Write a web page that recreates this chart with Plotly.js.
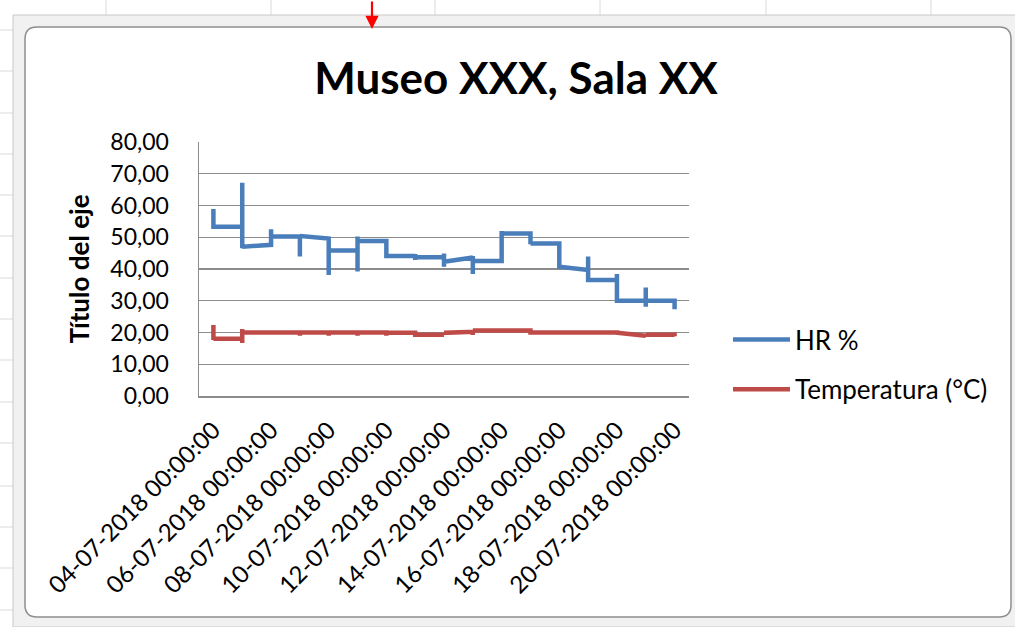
<!DOCTYPE html>
<html>
<head>
<meta charset="utf-8">
<script src="https://cdn.plot.ly/plotly-3.0.1.min.js"></script>
<style>
html,body{margin:0;padding:0;background:#fff;}
#chart{width:1015px;height:627px;}
</style>
</head>
<body>
<div id="chart"></div>
<script>
// ---- data (several readings per day, stacked on the day position) ----
const days = ['2018-07-04','2018-07-05','2018-07-06','2018-07-07','2018-07-08','2018-07-09',
  '2018-07-10','2018-07-11','2018-07-12','2018-07-13','2018-07-14','2018-07-15','2018-07-16',
  '2018-07-17','2018-07-18','2018-07-19','2018-07-20'];

const hrReadings = [
  [58.9, 56.0, 54.0, 53.3],
  [53.3, 67.2, 46.5, 47.0],
  [47.6, 52.5, 48.5, 50.2],
  [50.2, 43.9, 50.9, 50.4],
  [49.6, 38.1, 47.0, 45.8],
  [45.8, 39.2, 50.2, 48.8],
  [48.8, 46.5, 45.0, 44.1],
  [44.1, 44.7, 42.8, 43.7],
  [43.7, 44.9, 40.7, 42.3],
  [43.6, 44.1, 38.4, 42.5],
  [42.5, 44.0, 52.0, 51.2],
  [51.2, 50.0, 47.8, 48.0],
  [48.0, 45.0, 42.0, 40.7],
  [39.7, 43.9, 35.8, 36.5],
  [36.5, 38.4, 31.0, 30.0],
  [30.0, 34.2, 28.1, 30.0],
  [30.0, 29.0, 28.0, 27.3]
];

const tempReadings = [
  [22.4, 19.0, 17.6, 18.0],
  [18.0, 21.1, 16.7, 20.0],
  [20.0, 20.6, 19.6, 20.0],
  [20.0, 19.0, 19.8, 20.0],
  [20.0, 19.0, 19.8, 20.0],
  [20.0, 19.0, 19.8, 20.0],
  [20.0, 19.0, 19.8, 20.0],
  [19.9, 19.2, 19.6, 19.3],
  [19.3, 19.1, 20.0, 19.9],
  [20.2, 19.2, 20.8, 20.6],
  [20.6, 20.4, 20.8, 20.6],
  [20.6, 20.2, 20.0, 20.0],
  [20.0, 19.8, 20.1, 20.0],
  [20.0, 19.8, 20.1, 20.0],
  [20.0, 19.7, 20.1, 19.9],
  [19.0, 18.8, 19.4, 19.3],
  [19.3, 18.8, 19.4, 19.0]
];

const seriesNames = ['HR %', 'Temperatura (°C)'];
const chartTitle = 'Museo XXX, Sala XX';
const yAxisTitle = 'Título del eje';

// ---- build traces ----
function flatten(readings) {
  const x = [], y = [];
  readings.forEach((vals, i) => vals.forEach(v => { x.push(days[i]); y.push(v); }));
  return {x, y};
}
const hr = flatten(hrReadings);
const tp = flatten(tempReadings);

const FONT = 'Lato, Carlito, Calibri, "Open Sans", sans-serif';

const traces = [
  {x: hr.x, y: hr.y, name: seriesNames[0], type: 'scatter', mode: 'lines',
   line: {color: '#4a7ebb', width: 4.5, simplify: false}, legendgroup: 'a'},
  {x: tp.x, y: tp.y, name: seriesNames[1], type: 'scatter', mode: 'lines',
   line: {color: '#be4b48', width: 4.5, simplify: false}, legendgroup: 'b'}
];

// ---- geometry helpers (pixels -> paper) ----
const W = 1015, H = 627;
const PL = 199, PR = 689, PT = 142, PB = 396;
const px = x => (x - PL) / (PR - PL);
const py = y => (PB - y) / (PB - PT);

const shapes = [];
// spreadsheet grid behind the chart
[106, 271, 435, 600, 766, 931].forEach(x => shapes.push({type:'line', xref:'paper', yref:'paper',
  x0: px(x), x1: px(x), y0: py(0), y1: py(H), line:{color:'#d9dadb', width:1}, layer:'below'}));
[30, 71, 113, 154, 195, 236, 278, 319, 360, 402, 443, 486, 527, 568, 610].forEach(y => shapes.push({type:'line', xref:'paper', yref:'paper',
  x0: px(0), x1: px(W), y0: py(y), y1: py(y), line:{color:'#d9dadb', width:1}, layer:'below'}));
// selection frame band
shapes.push({type:'rect', xref:'paper', yref:'paper', x0: px(13), x1: px(1025), y0: py(15), y1: py(627),
  fillcolor:'#f1f1f1', line:{color:'#c9c9c9', width:1}, layer:'below'});
// chart area with rounded corners
(function(){
  const x0 = 25, x1 = 1011, y0 = 27, y1 = 617, r = 12;
  const P = (x, y) => px(x) + ',' + py(y);
  const d = 'M' + P(x0 + r, y0) + ' L' + P(x1 - r, y0) + ' Q' + P(x1, y0) + ' ' + P(x1, y0 + r) +
    ' L' + P(x1, y1 - r) + ' Q' + P(x1, y1) + ' ' + P(x1 - r, y1) +
    ' L' + P(x0 + r, y1) + ' Q' + P(x0, y1) + ' ' + P(x0, y1 - r) +
    ' L' + P(x0, y0 + r) + ' Q' + P(x0, y0) + ' ' + P(x0 + r, y0) + ' Z';
  shapes.push({type:'path', xref:'paper', yref:'paper', path: d, fillcolor:'#ffffff',
    line:{color:'#8e8e8e', width:1.5}, layer:'below'});
})();

const layout = {
  width: W, height: H,
  margin: {l: PL, r: W - PR, t: PT, b: H - PB, pad: 0},
  paper_bgcolor: '#ffffff',
  plot_bgcolor: 'rgba(0,0,0,0)',
  separators: ', ',
  font: {family: FONT, color: '#000000', size: 24},
  title: {text: chartTitle, font: {family: FONT, size: 44, weight: 700, color: '#000'},
    x: 516 / W, xanchor: 'center', y: 1 - 79 / H, yanchor: 'middle', xref: 'container', yref: 'container'},
  showlegend: true,
  legend: {x: px(728), xanchor: 'left', y: py(316), yanchor: 'top', bgcolor: 'rgba(0,0,0,0)',
    font: {family: FONT, size: 26, color: '#000'}, tracegroupgap: 13, traceorder: 'grouped',
    itemwidth: 57},
  xaxis: {
    type: 'date',
    range: ['2018-07-03 12:00', '2018-07-20 12:00'],
    tick0: '2018-07-04', dtick: 2 * 86400000,
    tickformat: '%d-%m-%Y %H:%M:%S',
    tickangle: -45,
    ticks: '', ticklabelstandoff: 9,
    showgrid: false, zeroline: false,
    showline: true, linecolor: '#8c8c8c', linewidth: 1.5,
    tickfont: {family: FONT, size: 24, color: '#000'},
    fixedrange: true
  },
  yaxis: {
    range: [0, 80], dtick: 10, tick0: 0,
    tickformat: '.2f',
    ticks: '', ticklabelstandoff: 24,
    showgrid: true, gridcolor: '#8c8c8c', gridwidth: 1.2,
    zeroline: false,
    showline: true, linecolor: '#8c8c8c', linewidth: 1.5,
    tickfont: {family: FONT, size: 23, color: '#000'},
    title: {text: yAxisTitle, font: {family: FONT, size: 26, weight: 700, color: '#000'}, standoff: 13},
    fixedrange: true
  },
  shapes: shapes,
  annotations: [{
    xref: 'paper', yref: 'paper', x: px(372), y: py(29), ax: 0, ay: -29,
    text: '', showarrow: true, arrowhead: 2, arrowsize: 1.2, arrowwidth: 2.2, arrowcolor: '#ff0000'
  }]
};

Plotly.newPlot('chart', traces, layout, {displayModeBar: false, staticPlot: true});
</script>
</body>
</html>
